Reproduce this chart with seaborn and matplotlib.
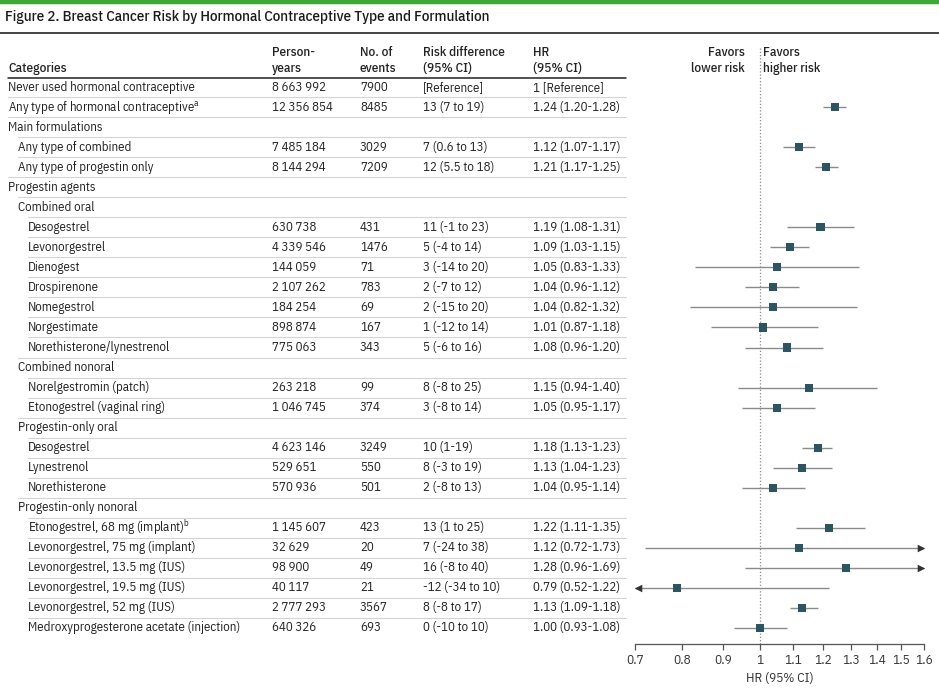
import matplotlib
matplotlib.use("Agg")
import matplotlib.pyplot as plt
import matplotlib.transforms as mtransforms
from matplotlib.lines import Line2D
from matplotlib.ticker import NullLocator
import seaborn as sns
import pandas as pd
import numpy as np

# ---------------- data ----------------
categories = [
    "Never used hormonal contraceptive",
    "Any type of hormonal contraceptive$^{\\mathregular{a}}$",
    "Main formulations",
    "Any type of combined",
    "Any type of progestin only",
    "Progestin agents",
    "Combined oral",
    "Desogestrel",
    "Levonorgestrel",
    "Dienogest",
    "Drospirenone",
    "Nomegestrol",
    "Norgestimate",
    "Norethisterone/lynestrenol",
    "Combined nonoral",
    "Norelgestromin (patch)",
    "Etonogestrel (vaginal ring)",
    "Progestin-only oral",
    "Desogestrel",
    "Lynestrenol",
    "Norethisterone",
    "Progestin-only nonoral",
    "Etonogestrel, 68 mg (implant)$^{\\mathregular{b}}$",
    "Levonorgestrel, 75 mg (implant)",
    "Levonorgestrel, 13.5 mg (IUS)",
    "Levonorgestrel, 19.5 mg (IUS)",
    "Levonorgestrel, 52 mg (IUS)",
    "Medroxyprogesterone acetate (injection)",
]
levels = [0, 0, 0, 1, 1, 0, 1, 2, 2, 2, 2, 2, 2, 2, 1, 2, 2, 1, 2, 2, 2, 1, 2, 2, 2, 2, 2, 2]

T = "\u2009"
person_years = [
    f"8{T}663{T}992", f"12{T}356{T}854", "", f"7{T}485{T}184", f"8{T}144{T}294", "", "",
    f"630{T}738", f"4{T}339{T}546", f"144{T}059", f"2{T}107{T}262", f"184{T}254",
    f"898{T}874", f"775{T}063", "", f"263{T}218", f"1{T}046{T}745", "",
    f"4{T}623{T}146", f"529{T}651", f"570{T}936", "",
    f"1{T}145{T}607", f"32{T}629", f"98{T}900", f"40{T}117", f"2{T}777{T}293", f"640{T}326",
]
events = [
    "7900", "8485", "", "3029", "7209", "", "",
    "431", "1476", "71", "783", "69", "167", "343", "",
    "99", "374", "", "3249", "550", "501", "",
    "423", "20", "49", "21", "3567", "693",
]
risk_diff = [
    "[Reference]", "13 (7 to 19)", "", "7 (0.6 to 13)", "12 (5.5 to 18)", "", "",
    "11 (-1 to 23)", "5 (-4 to 14)", "3 (-14 to 20)", "2 (-7 to 12)", "2 (-15 to 20)",
    "1 (-12 to 14)", "5 (-6 to 16)", "", "8 (-8 to 25)", "3 (-8 to 14)", "",
    "10 (1-19)", "8 (-3 to 19)", "2 (-8 to 13)", "",
    "13 (1 to 25)", "7 (-24 to 38)", "16 (-8 to 40)", "-12 (-34 to 10)", "8 (-8 to 17)",
    "0 (-10 to 10)",
]
hr_text = [
    "1 [Reference]", "1.24 (1.20-1.28)", "", "1.12 (1.07-1.17)", "1.21 (1.17-1.25)", "", "",
    "1.19 (1.08-1.31)", "1.09 (1.03-1.15)", "1.05 (0.83-1.33)", "1.04 (0.96-1.12)",
    "1.04 (0.82-1.32)", "1.01 (0.87-1.18)", "1.08 (0.96-1.20)", "",
    "1.15 (0.94-1.40)", "1.05 (0.95-1.17)", "",
    "1.18 (1.13-1.23)", "1.13 (1.04-1.23)", "1.04 (0.95-1.14)", "",
    "1.22 (1.11-1.35)", "1.12 (0.72-1.73)", "1.28 (0.96-1.69)", "0.79 (0.52-1.22)",
    "1.13 (1.09-1.18)", "1.00 (0.93-1.08)",
]
nan = np.nan
hr = [nan, 1.24, nan, 1.12, 1.21, nan, nan, 1.19, 1.09, 1.05, 1.04, 1.04, 1.01, 1.08, nan,
      1.15, 1.05, nan, 1.18, 1.13, 1.04, nan, 1.22, 1.12, 1.28, 0.79, 1.13, 1.00]
hr_lo = [nan, 1.20, nan, 1.07, 1.17, nan, nan, 1.08, 1.03, 0.83, 0.96, 0.82, 0.87, 0.96, nan,
         0.94, 0.95, nan, 1.13, 1.04, 0.95, nan, 1.11, 0.72, 0.96, 0.52, 1.09, 0.93]
hr_hi = [nan, 1.28, nan, 1.17, 1.25, nan, nan, 1.31, 1.15, 1.33, 1.12, 1.32, 1.18, 1.20, nan,
         1.40, 1.17, nan, 1.23, 1.23, 1.14, nan, 1.35, 1.73, 1.69, 1.22, 1.18, 1.08]

header_cols = ["Categories", "Person-\nyears", "No. of\nevents", "Risk difference\n(95% CI)", "HR\n(95% CI)"]
xticks = [0.7, 0.8, 0.9, 1, 1.1, 1.2, 1.3, 1.4, 1.5, 1.6]
xtick_labels = ["0.7", "0.8", "0.9", "1", "1.1", "1.2", "1.3", "1.4", "1.5", "1.6"]
title = "Figure 2. Breast Cancer Risk by Hormonal Contraceptive Type and Formulation"

df = pd.DataFrame({"row": np.arange(len(categories)), "cat": categories, "level": levels,
                   "py": person_years, "ev": events, "rd": risk_diff, "hrt": hr_text,
                   "hr": hr, "lo": hr_lo, "hi": hr_hi})

# ---------------- style ----------------
sns.set_theme(style="white")
FONT = ["IBM Plex Sans Condensed", "DejaVu Sans"]
plt.rcParams["font.family"] = FONT
plt.rcParams["mathtext.fontset"] = "custom"
plt.rcParams["mathtext.rm"] = "IBM Plex Sans Condensed"

W, H = 939, 689
fig = plt.figure(figsize=(W / 100, H / 100), dpi=100)
fig.patch.set_facecolor("white")

def fx(px):
    return px / W

def fy(py):
    return 1 - py / H

TXT = "#222222"
FS = 9.3

ax = fig.add_axes([fx(635), fy(644), fx(924) - fx(635), fy(47) - fy(644)])
ax.set_facecolor("white")
ax.set_xscale("log")
ax.set_xlim(0.7, 1.6)
ax.set_ylim(27.8, -2.0)

# CI lines
XMIN, XMAX = ax.get_xlim()
d = df.dropna(subset=["hr"])
for _, r in d.iterrows():
    lo = max(r["lo"], XMIN)
    hi = min(r["hi"], XMAX)
    ax.plot([lo, hi], [r["row"], r["row"]], color="#8a8a8a", lw=1.0, zorder=2,
            solid_capstyle="butt")
    if r["hi"] > XMAX:
        ax.scatter([XMAX * 0.992], [r["row"]], marker=">", s=30, color="#333333",
                   zorder=3, linewidths=0)
    if r["lo"] < XMIN:
        ax.scatter([XMIN / 0.992], [r["row"]], marker="<", s=30, color="#333333",
                   zorder=3, linewidths=0)

sns.scatterplot(data=d, x="hr", y="row", marker="s", color="#2b5563", s=34,
                edgecolor="none", linewidth=0, ax=ax, zorder=4, legend=False)

ax.axvline(1, color="#8a8a8a", lw=0.9, ls=(0, (1, 1.6)), zorder=1)

for s in ["top", "right", "left"]:
    ax.spines[s].set_visible(False)
ax.spines["bottom"].set_color("#555555")
ax.spines["bottom"].set_linewidth(0.9)
ax.set_yticks([])
ax.set_xticks(xticks)
ax.set_xticklabels(xtick_labels)
ax.xaxis.set_minor_locator(NullLocator())
ax.tick_params(axis="x", direction="out", length=4, width=0.9, color="#555555",
               labelsize=FS + 0.2, labelcolor="#333333", pad=3, bottom=True)
ax.set_xlabel("HR (95% CI)", fontsize=FS + 0.2, color="#333333", labelpad=4)
ax.set_ylabel("")

# favors labels
ax.text(fx(745), fy(72), "Favors\nlower risk", transform=fig.transFigure, ha="right",
        va="baseline", fontsize=FS + 0.2, color=TXT, linespacing=1.3, fontweight="medium")
ax.text(fx(763), fy(72), "Favors\nhigher risk", transform=fig.transFigure, ha="left",
        va="baseline", fontsize=FS + 0.2, color=TXT, linespacing=1.3, fontweight="medium")

# ---------------- table ----------------
blend = mtransforms.blended_transform_factory(fig.transFigure, ax.transData)
col_x = [8, 272, 360, 423, 533]
indent_x = [8, 18, 28]
for _, r in df.iterrows():
    y = r["row"]
    fig.text(fx(indent_x[r["level"]]), y, r["cat"], transform=blend, ha="left",
             va="center", fontsize=FS, color=TXT)
    for cx, key in zip(col_x[1:], ["py", "ev", "rd", "hrt"]):
        if r[key]:
            fig.text(fx(cx), y, r[key], transform=blend, ha="left", va="center",
                     fontsize=FS, color=TXT)
    if y > 0:
        fig.add_artist(Line2D([fx(indent_x[r["level"]]), fx(626)], [y - 0.5, y - 0.5],
                              transform=blend, color="#d4d4d4", lw=0.8))

# headers
for cx, h in zip(col_x, header_cols):
    fig.text(fx(cx), fy(72), h, ha="left", va="baseline", fontsize=FS + 0.2, color=TXT,
             linespacing=1.3, transform=fig.transFigure, fontweight="medium")

fig.add_artist(Line2D([fx(8), fx(626)], [fy(77.5), fy(77.5)], transform=fig.transFigure,
                      color="#222222", lw=1.1))

# title and rules
fig.add_artist(Line2D([0, 1], [fy(1.8), fy(1.8)], transform=fig.transFigure,
                      color="#3aa935", lw=3.2))
fig.text(fx(5), fy(17), title, ha="left", va="center", fontsize=10.8, color="#1a1a1a",
         transform=fig.transFigure, fontweight="medium")
fig.add_artist(Line2D([0, 1], [fy(32.5), fy(32.5)], transform=fig.transFigure,
                      color="#222222", lw=1.2))

fig.savefig("out.png", dpi=100, facecolor="white")
